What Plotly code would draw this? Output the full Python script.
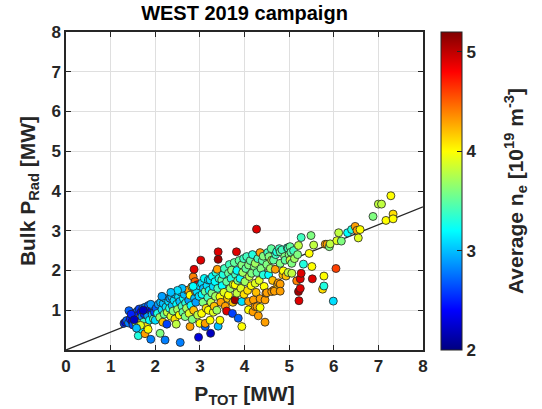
import plotly.graph_objects as go

# ---- data ----
P_TOT = [
    1.30, 1.33, 1.36, 1.41, 1.40, 1.44, 1.48, 1.50, 1.52, 1.55, 1.57, 1.58, 1.60, 1.62, 1.62,
    1.64, 1.66, 1.68, 1.70, 1.70, 1.72, 1.74, 1.75, 1.77, 1.78, 1.80, 1.81, 1.83, 1.85, 1.87,
    1.88, 1.90, 1.92, 1.93, 1.95, 1.96, 1.98, 2.00, 1.46, 1.53, 1.67, 1.84, 1.58, 1.73, 1.90,
    2.02, 2.05, 2.07, 2.10, 2.11, 2.12, 2.15, 2.17, 2.18, 2.20, 2.22, 2.22, 2.24, 2.26, 2.27,
    2.30, 2.32, 2.33, 2.35, 2.37, 2.38, 2.40, 2.42, 2.44, 2.45, 2.47, 2.48, 2.50, 2.52, 2.54,
    2.55, 2.56, 2.58, 2.60, 2.62, 2.63, 2.65, 2.67, 2.68, 2.70, 2.72, 2.74, 2.75, 2.76, 2.78,
    2.78, 2.80, 2.82, 2.83, 2.85, 2.86, 2.87, 2.88, 2.89, 2.90, 2.91, 2.93, 2.94, 2.95, 2.97,
    2.98, 3.00, 3.00, 2.15, 2.60, 2.50, 2.35, 2.85,
    3.02, 3.04, 3.04, 3.05, 3.07, 3.08, 3.10, 3.12, 3.12, 3.12, 3.14, 3.16, 3.18, 3.19, 3.19,
    3.21, 3.23, 3.23, 3.24, 3.25, 3.27, 3.28, 3.30, 3.30, 3.32, 3.34, 3.35, 3.36, 3.38, 3.39,
    3.40, 3.41, 3.41, 3.41, 3.43, 3.45, 3.45, 3.47, 3.49, 3.50, 3.52, 3.54, 3.55, 3.57, 3.60,
    3.60, 3.62, 3.64, 3.64, 3.66, 3.68, 3.70, 3.71, 3.73, 3.74, 3.75, 3.77, 3.79, 3.79, 3.80,
    3.82, 3.83, 3.83, 3.85, 3.86, 3.88, 3.90, 3.92, 3.94, 3.94, 3.94, 3.96, 3.98, 3.99,
    4.01, 4.03, 4.05, 4.07, 4.09, 4.09, 4.09, 4.11, 4.13, 4.15, 4.16, 4.18, 4.19, 4.20, 4.22,
    4.24, 4.24, 4.24, 4.26, 4.27, 4.28, 4.28, 4.30, 4.31, 4.33, 4.35, 4.35, 4.35, 4.37, 4.40,
    4.42, 4.42, 4.44, 4.46, 4.46, 4.48, 4.50, 4.50, 4.52, 4.54, 4.55, 4.58, 4.60, 4.61, 4.61,
    4.63, 4.65, 4.66, 4.67, 4.69, 4.70, 4.72, 4.74, 4.76, 4.78, 4.80, 4.80, 4.80, 4.80, 4.84,
    4.86, 4.87, 4.90, 4.91, 4.93, 4.96, 4.98, 4.98, 5.00,
    5.02, 5.02, 5.04, 5.06, 5.06, 5.10, 5.12, 5.17, 5.19, 5.21, 5.21, 5.22, 5.25, 5.25, 5.27,
    5.27, 5.32, 5.45, 5.49, 5.51, 5.52, 5.55, 5.75, 5.78, 5.78, 5.81, 5.85, 5.90, 5.92, 5.99,
    6.05, 6.07, 6.11, 6.17, 6.31, 6.40, 6.48, 6.52, 6.55, 6.59, 6.88, 7.00, 7.07, 7.17, 7.28,
    7.33, 7.33,
]
P_RAD = [
    0.67, 0.70, 0.74, 0.99, 0.68, 0.78, 0.72, 0.63, 0.86, 0.93, 0.67, 0.80, 0.98, 0.88, 0.36,
    1.03, 0.80, 0.95, 0.84, 0.52, 1.05, 0.70, 0.91, 0.41, 1.08, 0.97, 0.60, 0.86, 1.12, 0.75,
    1.01, 0.27, 1.00, 0.89, 1.10, 0.78, 0.95, 0.75, 0.90, 0.76, 0.62, 0.52, 0.55, 1.00, 1.15,
    1.05, 0.92, 1.15, 0.82, 0.42, 1.20, 1.02, 0.70, 1.17, 0.90, 1.30, 0.25, 1.08, 0.65, 0.95,
    1.22, 1.05, 1.30, 0.85, 1.34, 1.12, 0.98, 1.25, 0.78, 1.40, 0.65, 1.15, 1.02, 1.34, 0.88,
    1.22, 0.19, 1.45, 1.10, 0.95, 1.30, 1.40, 0.84, 1.18, 1.05, 1.50, 1.51, 1.25, 0.92, 1.38,
    0.59, 1.12, 1.59, 0.77, 1.84, 1.00, 2.03, 1.30, 1.72, 1.47, 1.20, 1.47, 1.64, 0.88, 0.32,
    1.35, 1.61, 0.67, 1.35, 1.55, 1.50, 1.45, 1.60,
    2.26, 1.68, 0.92, 1.40, 1.20, 1.55, 1.80, 1.47, 0.59, 0.67, 1.05, 1.62, 1.32, 1.76, 1.00,
    1.50, 0.75, 1.76, 0.42, 1.20, 1.43, 1.85, 1.60, 0.95, 1.10, 1.72, 1.35, 1.95, 1.00, 2.03,
    1.55, 2.47, 2.28, 0.60, 1.80, 0.75, 1.34, 1.20, 1.76, 1.62, 1.90, 1.45, 2.05, 1.10, 0.98,
    1.72, 1.30, 1.93, 1.38, 2.15, 1.55, 1.80, 2.01, 0.92, 1.20, 1.65, 2.20, 1.26, 1.64, 1.90,
    2.47, 2.00, 1.43, 1.75, 0.80, 2.25, 1.80, 1.55, 2.14, 1.22, 0.59, 1.95, 2.30, 1.40,
    1.72, 2.05, 2.35, 1.50, 2.14, 1.22, 1.01, 1.85, 2.25, 1.62, 1.93, 2.40, 0.96, 1.26, 2.10,
    2.18, 1.68, 1.09, 1.45, 3.04, 1.95, 1.09, 2.30, 0.86, 1.75, 2.45, 1.29, 1.07, 2.05, 2.25,
    2.36, 1.89, 1.60, 1.26, 0.70, 1.43, 2.15, 1.44, 2.45, 1.89, 2.35, 2.05, 2.55, 2.26, 1.47,
    1.75, 2.26, 1.51, 1.48, 2.03, 2.40, 2.47, 1.65, 1.69, 2.55, 2.18, 2.47, 1.66, 1.48, 2.52,
    1.89, 1.99, 2.35, 2.26, 1.86, 2.57, 2.56, 1.95, 2.40,
    2.60, 2.26, 2.46, 2.18, 1.93, 2.50, 2.30, 1.74, 2.40, 2.63, 1.47, 1.24, 1.79, 1.55, 1.93,
    2.83, 2.16, 2.43, 2.88, 2.10, 1.79, 2.64, 1.53, 1.86, 1.61, 2.66, 2.66, 2.60, 2.67, 1.23,
    2.05, 2.75, 2.95, 2.74, 2.95, 3.03, 3.11, 3.01, 2.82, 3.03, 3.36, 3.67, 3.67, 3.26, 3.88,
    3.42, 3.30,
]
N_E = [
    2.6, 2.4, 2.7, 2.7, 2.8, 2.5, 2.3, 2.6, 2.4, 2.6, 3.7, 2.3, 2.7, 2.5, 3.3,
    2.6, 4.0, 2.4, 2.8, 3.2, 2.7, 3.4, 2.5, 4.3, 2.8, 2.6, 4.1, 2.9, 2.7, 3.2,
    2.5, 2.8, 2.3, 3.0, 2.8, 3.5, 2.6, 3.1, 2.5, 2.2, 3.9, 4.0, 3.0, 2.2, 2.9,
    2.7, 3.3, 2.9, 3.7, 3.6, 3.0, 3.1, 4.2, 3.0, 3.5, 3.0, 2.8, 3.1, 2.6, 3.8,
    3.1, 3.3, 2.9, 3.9, 3.0, 3.0, 3.6, 3.1, 4.1, 3.0, 3.8, 3.2, 3.7, 3.1, 4.0,
    3.0, 2.8, 3.0, 3.4, 3.5, 3.2, 3.0, 3.6, 3.3, 3.7, 3.1, 4.3, 2.9, 3.9, 4.0,
    4.3, 3.2, 4.2, 3.6, 4.4, 4.2, 4.9, 3.0, 4.5, 4.4, 2.9, 3.1, 4.9, 3.8, 2.3,
    3.1, 3.1, 4.0, 2.9, 3.0, 3.1, 3.0, 3.2,
    4.9, 3.1, 4.0, 3.2, 3.6, 3.0, 3.2, 3.5, 2.7, 4.3, 4.1, 3.1, 3.4, 3.1, 4.0,
    3.2, 4.0, 3.1, 2.2, 3.8, 3.6, 3.2, 3.1, 3.9, 4.2, 3.2, 3.7, 3.3, 3.7, 4.3,
    3.4, 4.9, 5.1, 3.0, 3.3, 4.0, 4.0, 4.3, 3.5, 3.2, 3.3, 3.9, 3.4, 4.3, 4.9,
    3.5, 4.2, 3.5, 4.0, 3.4, 3.7, 3.3, 3.6, 2.6, 4.2, 3.9, 3.5, 5.1, 4.0, 3.4,
    4.9, 3.2, 3.8, 3.6, 2.7, 3.5, 3.2, 3.9, 3.6, 3.1, 4.0, 3.7, 3.4, 4.1,
    3.7, 3.5, 3.4, 4.1, 3.6, 4.3, 4.0, 3.8, 3.5, 4.0, 3.6, 3.3, 4.3, 4.3, 3.6,
    3.7, 3.9, 4.3, 4.2, 4.9, 3.5, 4.3, 3.4, 4.3, 3.9, 4.3, 4.3, 4.0, 3.6, 3.5,
    3.6, 3.3, 4.0, 4.3, 4.3, 4.3, 3.6, 4.3, 3.4, 3.2, 3.6, 3.7, 3.5, 3.8, 4.3,
    4.2, 3.5, 4.3, 4.3, 4.3, 3.4, 3.3, 4.2, 4.3, 3.4, 3.6, 3.5, 4.3, 4.3, 3.4,
    4.2, 4.0, 3.6, 3.5, 4.2, 3.3, 3.4, 3.8, 3.6,
    3.5, 3.8, 3.5, 3.6, 3.8, 3.4, 3.7, 4.4, 3.6, 3.8, 5.1, 4.9, 4.9, 4.9, 4.9,
    3.4, 3.3, 4.0, 3.6, 4.0, 4.9, 3.8, 4.1, 4.0, 3.3, 4.3, 4.3, 3.6, 3.8, 3.1,
    4.6, 3.9, 3.8, 3.6, 3.2, 3.3, 4.3, 4.3, 3.9, 4.0, 3.6, 3.8, 3.8, 4.0, 4.0,
    4.1, 4.0,
]

FIT_SLOPE = 0.45          # slope of the drawn linear trend
X_TICKS = [0, 1, 2, 3, 4, 5, 6, 7, 8]
Y_TICKS = [1, 2, 3, 4, 5, 6, 7, 8]
CB_TICKS = [2, 3, 4, 5]
NE_MIN, NE_MAX = 2.0, 5.2

# MATLAB-style jet colormap
JET = [
    [0.0, "rgb(0,0,128)"], [0.125, "rgb(0,0,255)"], [0.375, "rgb(0,255,255)"],
    [0.625, "rgb(255,255,0)"], [0.875, "rgb(255,0,0)"], [1.0, "rgb(128,0,0)"],
]

FONT = "Liberation Sans, Arial, Helvetica, sans-serif"
AX_COL = "#262626"

fig = go.Figure()

line_x = [X_TICKS[0], X_TICKS[-1]]
fig.add_trace(go.Scatter(
    x=line_x, y=[FIT_SLOPE * v for v in line_x], mode="lines",
    line=dict(color="#262626", width=1.3), showlegend=False, hoverinfo="skip"))

fig.add_trace(go.Scatter(
    x=P_TOT, y=P_RAD, mode="markers", showlegend=False,
    marker=dict(
        size=8, color=N_E, colorscale=JET, cmin=NE_MIN, cmax=NE_MAX,
        line=dict(color="#222222", width=0.8),
        colorbar=dict(
            thickness=21, len=1.0, lenmode="fraction", y=0.5, yanchor="middle",
            x=1.05, xanchor="left", xpad=0, ypad=0,
            outlinecolor=AX_COL, outlinewidth=1,
            tickvals=CB_TICKS, ticks="inside", ticklen=5, tickcolor=AX_COL,
            tickfont=dict(family=FONT, size=17, color=AX_COL, weight="bold"),
        ),
    ),
))

axis_common = dict(
    showgrid=True, gridcolor="#dfdfdf", gridwidth=1,
    showline=True, linecolor=AX_COL, linewidth=1.5, mirror="ticks",
    ticks="inside", ticklen=5, tickcolor=AX_COL, tickwidth=1,
    zeroline=False, automargin=False,
    tickfont=dict(family=FONT, size=17, color=AX_COL, weight="bold"),
)

fig.update_xaxes(range=[0, 8], tickvals=X_TICKS,
                 title=dict(text="P<sub>TOT</sub> [MW]", standoff=11,
                            font=dict(family=FONT, size=21, color=AX_COL, weight="bold")),
                 **axis_common)
fig.update_yaxes(range=[0, 8], tickvals=Y_TICKS,
                 title=dict(text="Bulk P<sub>Rad</sub> [MW]", standoff=10,
                            font=dict(family=FONT, size=21, color=AX_COL, weight="bold")),
                 **axis_common)

fig.add_annotation(
    text="Average n<sub>e</sub> [10<sup>19</sup> m<sup>-3</sup>]",
    xref="paper", yref="paper", x=1.258, y=0.5, xanchor="center", yanchor="middle",
    textangle=-90, showarrow=False,
    font=dict(family=FONT, size=21, color=AX_COL, weight="bold"))

fig.update_layout(
    width=542, height=409,
    margin=dict(l=66, r=119, t=32, b=59),
    paper_bgcolor="white", plot_bgcolor="white",
    title=dict(text="WEST 2019 campaign", x=0.5, xref="paper", xanchor="center",
               y=1 - 13 / 409, yref="container", yanchor="middle",
               font=dict(family=FONT, size=20, color="black", weight="bold")),
)

fig.write_html("out.html")
